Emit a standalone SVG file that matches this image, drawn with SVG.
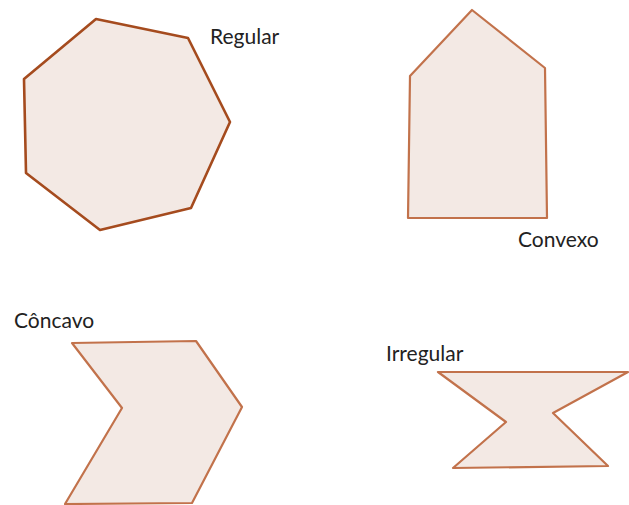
<svg xmlns="http://www.w3.org/2000/svg" width="629" height="505" viewBox="0 0 629 505">
<style>
.shape{fill:#f3e9e4;stroke-linejoin:round}
.dark{stroke:#a54b1e;stroke-width:2.6}
.light{stroke:#c2724b;stroke-width:2.2}
text{font-family:Lato,"Open Sans",sans-serif;font-size:21px;fill:#222}
</style>
<rect width="629" height="505" fill="#fff"/>
<g id="regular">
<polygon class="shape dark" points="96,19 188,38 230,122 191,208 100,230 26,173 24,79"/>
<text x="210" y="44">Regular</text>
</g>
<g id="convexo">
<polygon class="shape light" points="472,10 545,68 547,218 408,218 410,76"/>
<text x="518" y="247">Convexo</text>
</g>
<g id="concavo">
<polygon class="shape light" points="72,343 196,341 242,407 192,503 65,504 122,408"/>
<text x="14" y="328">Côncavo</text>
</g>
<g id="irregular">
<polygon class="shape light" points="438,372 628,372 553,413 608,466 453,468 506,422"/>
<text x="386" y="361">Irregular</text>
</g>
</svg>
